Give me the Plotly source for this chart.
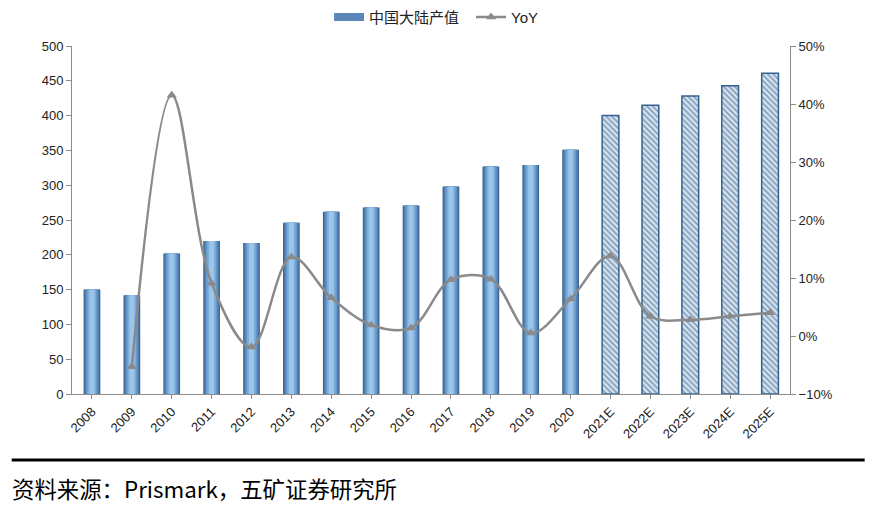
import plotly.graph_objects as go

years = ['2008', '2009', '2010', '2011', '2012', '2013', '2014', '2015', '2016',
         '2017', '2018', '2019', '2020', '2021E', '2022E', '2023E', '2024E', '2025E']
output_value = [150, 142, 202, 220, 217, 246, 262, 268, 271,
                298, 327, 329, 351, 400, 415, 428, 443, 461]
yoy = [None, -5.3, 41.5, 9.1, -1.9, 13.6, 6.6, 1.9, 1.4,
       9.7, 9.8, 0.5, 6.4, 13.8, 3.4, 2.8, 3.4, 4.0]

n_actual = 13  # 2008-2020 actual, the rest are estimates
act_x, act_y = years[:n_actual], output_value[:n_actual]
est_x, est_y = years[n_actual:], output_value[n_actual:]

fig = go.Figure()

# legend entry only: a thick line looks like the wide bar swatch of the original
fig.add_trace(go.Scatter(
    x=[years[0]], y=[None], mode='lines', name='中国大陆产值',
    line=dict(color='#5a88b8', width=8), hoverinfo='skip',
))

# fake a horizontal gradient on the actual bars by stacking narrower, lighter bars
shades = [(0.42, '#3b6894'), (0.36, '#4f7fae'), (0.29, '#6797c6'),
          (0.21, '#80aedb'), (0.12, '#9cc5ec')]
for w, c in shades:
    fig.add_trace(go.Bar(
        x=act_x, y=act_y, width=w,
        marker=dict(color=c, line=dict(width=0)),
        name='中国大陆产值', showlegend=False,
    ))

fig.add_trace(go.Bar(
    x=est_x, y=est_y, width=0.42,
    marker=dict(color='#e4edf6',
                line=dict(color='#34628f', width=1.5),
                pattern=dict(shape='\\', fgcolor='#34628f', bgcolor='#e4edf6',
                             size=4, solidity=0.55)),
    name='中国大陆产值', showlegend=False,
))

fig.add_trace(go.Scatter(
    x=years, y=yoy, yaxis='y2', name='YoY',
    mode='lines+markers',
    line=dict(color='#8a8a8a', width=2.5, shape='spline', smoothing=1),
    marker=dict(symbol='triangle-up', size=9, color='#8a8a8a'),
))

axis_font = dict(family='Liberation Sans, Arial', size=13, color='#222222')

# the page body adds 8px, so margins are set 8px smaller on the left/top
fig.update_layout(
    width=889, height=514,
    margin=dict(l=64, r=107, t=38, b=128),
    paper_bgcolor='white', plot_bgcolor='white',
    barmode='overlay',
    font=dict(family='Liberation Sans, Arial', color='#222222'),
    showlegend=True,
    legend=dict(orientation='h', x=0.358, xanchor='left',
                yref='container', y=0.982, yanchor='middle',
                font=dict(size=15, family='Liberation Sans, Noto Sans CJK SC'),
                itemwidth=30, entrywidth=97, traceorder='normal'),
    xaxis=dict(type='category', tickangle=-45, tickfont=axis_font,
               showline=True, linecolor='#8c8c8c', linewidth=1,
               ticks='outside', ticklen=4, tickcolor='#8c8c8c',
               showgrid=False, automargin=False, range=[-0.5, len(years) - 0.5]),
    yaxis=dict(range=[0, 500], dtick=50, tickfont=axis_font,
               showline=True, linecolor='#8c8c8c', linewidth=1,
               ticks='outside', ticklen=5, tickcolor='#8c8c8c',
               showgrid=False, zeroline=False, automargin=False),
    yaxis2=dict(range=[-10, 50], dtick=10, overlaying='y', side='right',
                ticksuffix='%', tickfont=axis_font,
                showline=True, linecolor='#8c8c8c', linewidth=1,
                ticks='outside', ticklen=5, tickcolor='#8c8c8c',
                showgrid=False, zeroline=False, automargin=False),
    shapes=[dict(type='line', xref='paper', yref='paper',
                 x0=-0.084, x1=1.104, y0=-0.19, y1=-0.19,
                 line=dict(color='black', width=3))],
    annotations=[dict(text='资料来源：Prismark，五矿证券研究所',
                      xref='paper', yref='paper', x=-0.086, y=-0.27,
                      xanchor='left', yanchor='middle', showarrow=False,
                      font=dict(family='Noto Sans CJK SC', size=22.4, color='black'))],
)

fig.write_html("out.html")
